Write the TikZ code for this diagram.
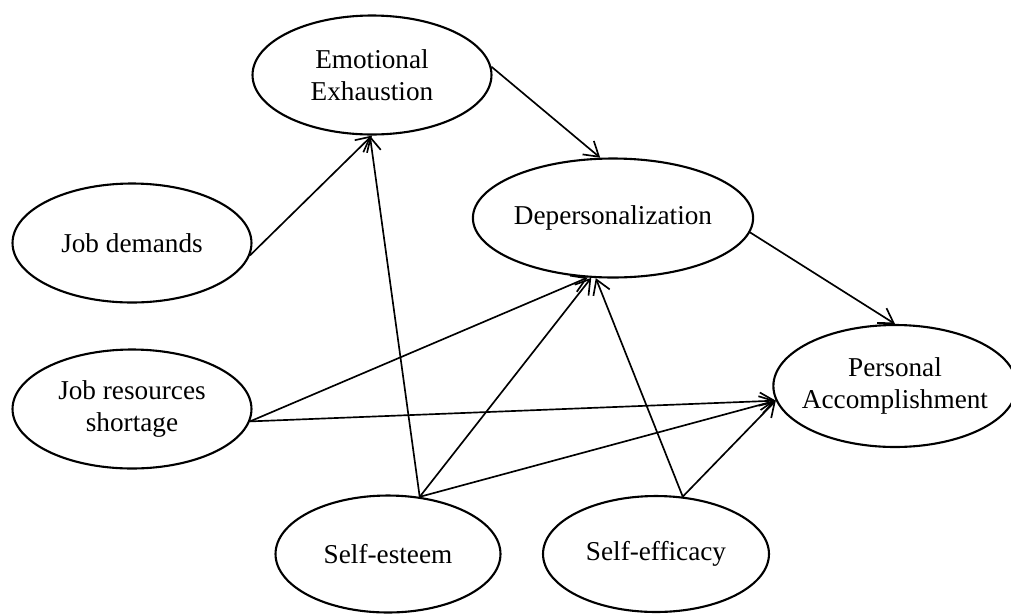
\documentclass[tikz,border=0pt]{standalone}
\usepackage{fontspec}
\setmainfont{Liberation Serif}
\usetikzlibrary{shapes.geometric, positioning, arrows.meta}

\begin{document}
\begin{tikzpicture}[x=0.02cm, y=-0.02cm,
	factor/.style={ellipse, draw, line width=1.2pt, inner sep=0pt, align=center,
		minimum width=4.78cm, minimum height=2.38cm,
		font=\fontsize{15.5}{18}\selectfont},
	path/.style={line width=0.95pt, -{Straight Barb[length=8pt, width=10pt]}}]
	\useasboundingbox (0, 0) rectangle (1011, 613);
	\node[factor] (ee) at (372, 75) {Emotional\\Exhaustion};
	\node[factor] (jd) at (132, 243) {Job demands};
	\node[factor] (dep) at (613, 218) {Depersonalization};
	\node[factor] (jr) at (132, 409) {Job resources\\shortage};
	\node[factor, inner xsep=-4pt, minimum width=4.6cm, minimum height=2.44cm] (pa) at (895, 386) {Personal\\Accomplishment};
	\node[factor, minimum width=4.5cm, minimum height=2.34cm] (se) at (388, 554) {Self-esteem};
	\node[factor, minimum width=4.52cm, minimum height=2.32cm] (sf) at (656, 554) {Self-efficacy};
	\draw[path] (jd.-6) -- (ee.south);
	\draw[path] (ee.4) -- (dep.102);
	\draw[path] (dep.-6) -- (pa.north);
	\draw[path] (jr.-6) -- (dep.247);
	\draw[path] (jr.-6) -- (pa.187);
	\draw[path] (se.61) -- (ee.-92);
	\draw[path] (se.61) -- (dep.250);
	\draw[path] (se.61) -- (pa.187);
	\draw[path] (sf.65) -- (dep.254);
	\draw[path] (sf.65) -- (pa.187);
\end{tikzpicture}
\end{document}
